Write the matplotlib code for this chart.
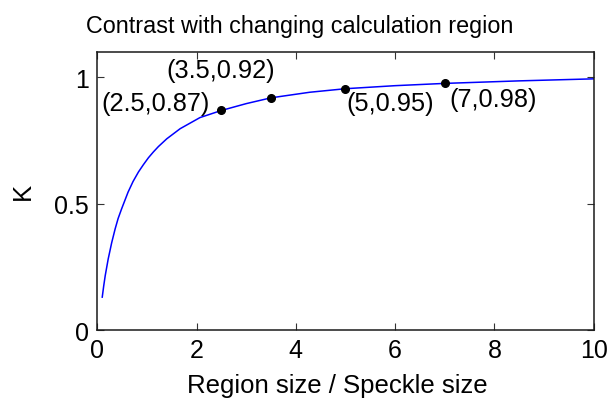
import matplotlib
matplotlib.use("Agg")
import matplotlib.pyplot as plt

plt.rcParams['font.family'] = ['Liberation Sans', 'DejaVu Sans']

# curve
ratio = [0.10, 0.13, 0.16, 0.22, 0.29, 0.36, 0.42, 0.49, 0.62, 0.72, 0.83, 0.93,
         1.03, 1.13, 1.23, 1.40, 1.67, 2.07, 2.5, 3.0, 3.5, 4.28, 5.0, 6.0,
         7.0, 8.5, 10.0]
contrast = [0.13, 0.175, 0.215, 0.281, 0.345, 0.40, 0.441, 0.479, 0.545, 0.587,
            0.625, 0.654, 0.681, 0.704, 0.725, 0.756, 0.796, 0.840, 0.868, 0.895,
            0.918, 0.94, 0.954, 0.966, 0.975, 0.985, 0.993]

# marked points
mark_x = [2.5, 3.5, 5, 7]
mark_y = [0.868, 0.918, 0.954, 0.975]
mark_labels = ['(2.5,0.87)', '(3.5,0.92)', '(5,0.95)', '(7,0.98)']

xticks = [0, 2, 4, 6, 8, 10]
yticks = [0, 0.5, 1]
ytick_labels = ['0', '0.5', '1']

fig = plt.figure(figsize=(6.08, 4.06), dpi=100)
ax = fig.add_axes([0.160, 0.1847, 0.8165, 0.6853])

ax.plot(ratio, contrast, color='#0000ff', lw=1.1)
ax.plot(mark_x, mark_y, 'o', color='black', ms=5.5)

# label placements (data coords) and alignment
lab_pos = [(2.27, 0.898, 'right'), (1.40, 1.027, 'left'),
           (5.02, 0.898, 'left'), (7.09, 0.914, 'left')]
for (lx, ly, ha), t in zip(lab_pos, mark_labels):
    ax.text(lx, ly, t, ha=ha, va='center', fontsize=18.3)

ax.set_xlim(0, 10)
ax.set_ylim(0, 1.1)
ax.set_xticks(xticks)
ax.set_yticks(yticks)
ax.set_yticklabels(ytick_labels)
ax.tick_params(direction='in', top=True, right=True, length=5, width=0.8,
               labelsize=18, color='#333333', pad=6)
for s in ax.spines.values():
    s.set_linewidth(1.1)
    s.set_color('#1a1a1a')

ax.set_xlabel('Region size / Speckle size', fontsize=18.5, labelpad=8)
ax.xaxis.set_label_coords(0.483, -0.155)
ax.set_ylabel('K', fontsize=18.5, labelpad=14)
ax.set_title('Contrast with changing calculation region', fontsize=16.8, pad=14,
             x=0.408)

fig.savefig('out.png', dpi=100)
